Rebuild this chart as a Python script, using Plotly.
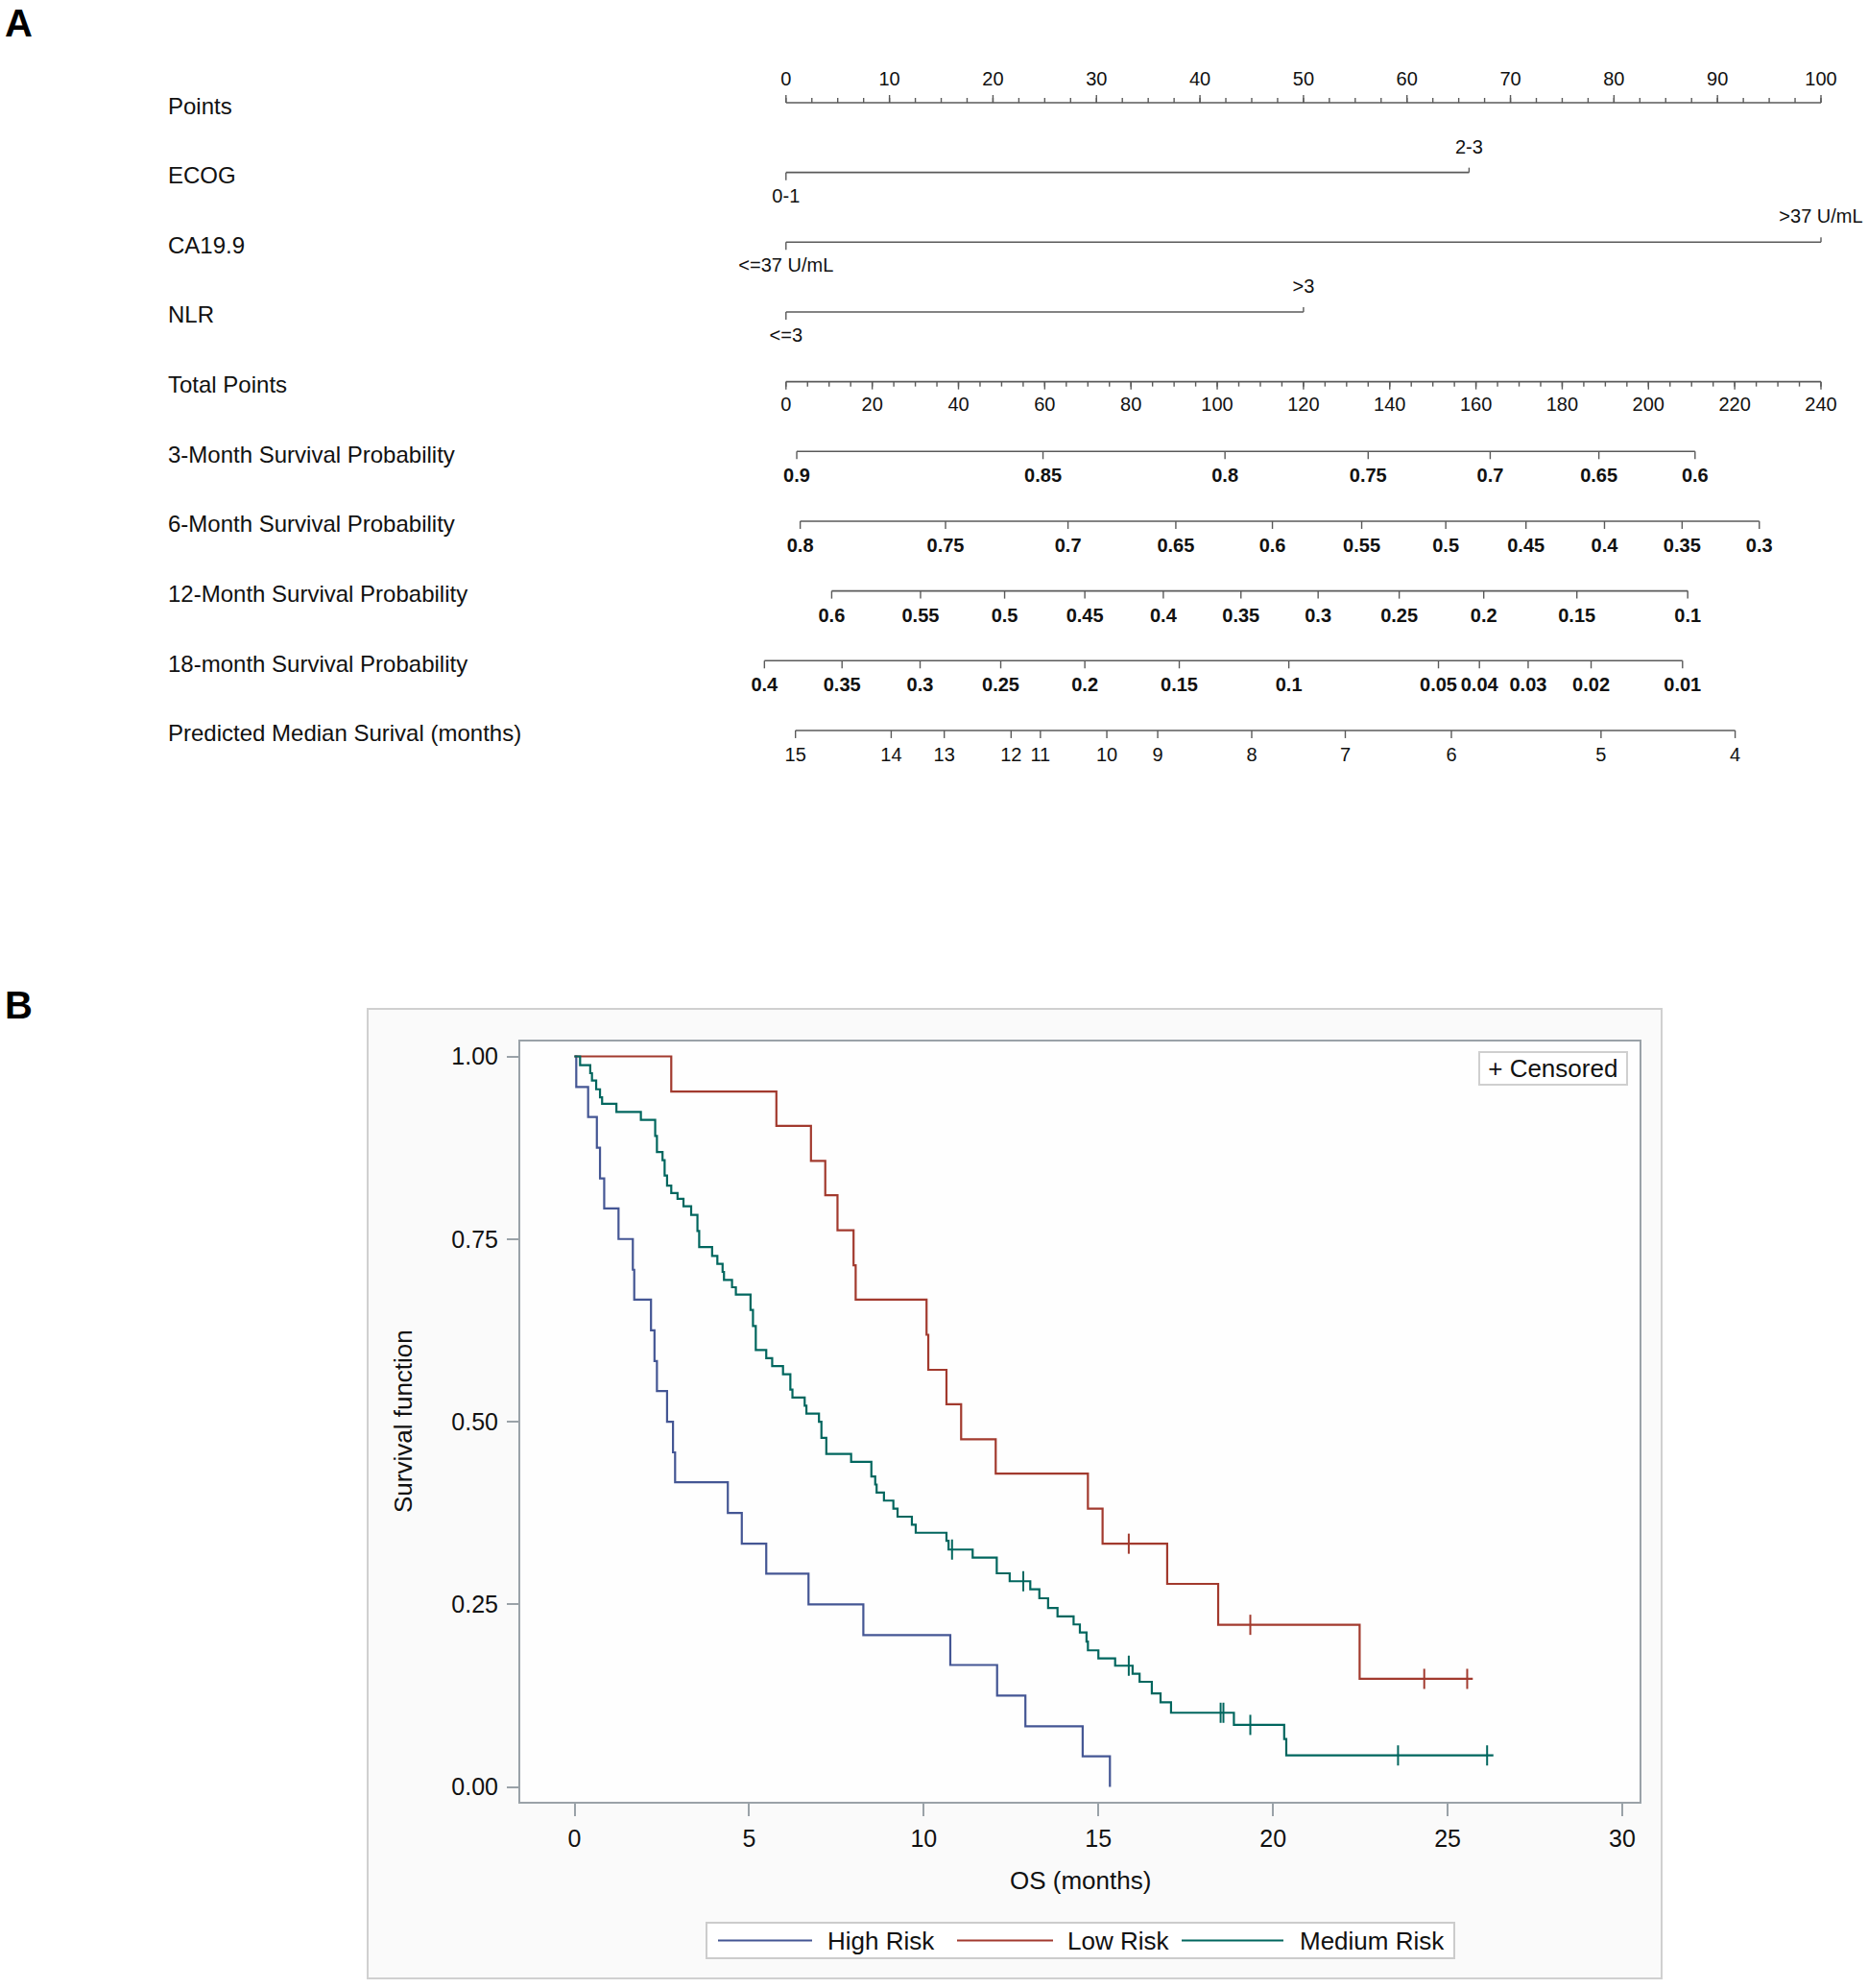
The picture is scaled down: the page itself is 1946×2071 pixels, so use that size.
import plotly.graph_objects as go

W, H = 1946, 2071
FONT = "Liberation Sans, Arial, sans-serif"
AXC = "#5a5a5a"       # nomogram line colour
TXT = "#111111"

###############
# panel A data (nomogram)
row_names = ["Points", "ECOG", "CA19.9", "NLR", "Total Points",
             "3-Month Survival Probability", "6-Month Survival Probability",
             "12-Month Survival Probability", "18-month Survival Probability",
             "Predicted Median Surival (months)"]

points_major = [0, 10, 20, 30, 40, 50, 60, 70, 80, 90, 100]
points_minor_step = 2.5
total_major = [0, 20, 40, 60, 80, 100, 120, 140, 160, 180, 200, 220, 240]
total_minor_step = 5

ecog_pts = [0, 66]
ecog_lbl = ["0-1", "2-3"]
ca199_pts = [0, 100]
ca199_lbl = ["<=37 U/mL", ">37 U/mL"]
nlr_pts = [0, 50]
nlr_lbl = ["<=3", ">3"]

surv3_lbl = ["0.9", "0.85", "0.8", "0.75", "0.7", "0.65", "0.6"]
surv3_tot = [2.5, 59.6, 101.8, 135.0, 163.3, 188.5, 210.8]
surv6_lbl = ["0.8", "0.75", "0.7", "0.65", "0.6", "0.55", "0.5", "0.45", "0.4", "0.35", "0.3"]
surv6_tot = [3.3, 37.0, 65.4, 90.4, 112.8, 133.5, 153.0, 171.6, 189.8, 207.8, 225.7]
surv12_lbl = ["0.6", "0.55", "0.5", "0.45", "0.4", "0.35", "0.3", "0.25", "0.2", "0.15", "0.1"]
surv12_tot = [10.6, 31.2, 50.7, 69.3, 87.5, 105.5, 123.4, 142.2, 161.8, 183.4, 209.1]
surv18_lbl = ["0.4", "0.35", "0.3", "0.25", "0.2", "0.15", "0.1", "0.05", "0.04", "0.03", "0.02", "0.01"]
surv18_tot = [-5.0, 13.0, 31.1, 49.8, 69.3, 91.2, 116.6, 151.3, 160.8, 172.1, 186.7, 207.9]
median_lbl = ["15", "14", "13", "12", "11", "10", "9", "8", "7", "6", "5", "4"]
median_tot = [2.2, 24.4, 36.7, 52.2, 59.0, 74.4, 86.2, 108.0, 129.7, 154.3, 189.0, 220.1]

###############
# panel B data (Kaplan-Meier)
high_t = [0, 0.05, 0.39, 0.64, 0.73, 0.85, 1.26, 1.67, 1.71, 2.19, 2.29, 2.36, 2.65,
          2.82, 2.88, 4.39, 4.79, 5.49, 6.70, 8.27, 10.76, 12.10, 12.91, 14.55, 15.33]
high_s = [1.0, 0.958, 0.917, 0.875, 0.833, 0.792, 0.750, 0.708, 0.667, 0.625, 0.583, 0.542, 0.500,
          0.458, 0.417, 0.375, 0.333, 0.292, 0.250, 0.208, 0.167, 0.125, 0.083, 0.042, 0.0]
high_cens_t = []
high_cens_s = []

low_t = [0, 2.77, 5.78, 6.77, 7.18, 7.53, 7.99, 8.05, 10.08, 10.13, 10.65, 11.07, 12.06,
         14.70, 15.12, 16.97, 18.43, 22.48, 25.72]
low_s = [1.0, 0.952, 0.905, 0.857, 0.810, 0.762, 0.714, 0.667, 0.619, 0.571, 0.524, 0.476, 0.429,
         0.381, 0.333, 0.278, 0.222, 0.148, 0.148]
low_cens_t = [15.87, 19.35, 24.33, 25.56]
low_cens_s = [0.333, 0.222, 0.148, 0.148]

mid_t = [0, 0.16, 0.45, 0.50, 0.62, 0.73, 0.79, 1.20, 1.90, 2.31, 2.36, 2.52, 2.58, 2.65, 2.77,
         2.95, 3.12, 3.34, 3.52, 3.57, 3.94, 4.09, 4.24, 4.28, 4.51, 4.62, 5.04, 5.11, 5.19,
         5.49, 5.66, 5.97, 6.18, 6.24, 6.59, 6.64, 7.00, 7.07, 7.21, 7.92, 8.50, 8.61, 8.65,
         8.86, 9.13, 9.25, 9.66, 9.77, 10.65, 10.71, 11.40, 12.09, 12.46, 13.05, 13.31, 13.56,
         13.83, 14.29, 14.47, 14.66, 14.70, 15.00, 15.48, 15.98, 16.18, 16.53, 16.78, 17.08,
         18.88, 20.32, 20.38, 26.31]
mid_s = [1.0, 0.988, 0.977, 0.967, 0.955, 0.944, 0.935, 0.924, 0.913, 0.891, 0.869, 0.858, 0.837,
         0.823, 0.813, 0.805, 0.795, 0.783, 0.761, 0.739, 0.727, 0.716, 0.705, 0.694, 0.684, 0.674,
         0.653, 0.631, 0.598, 0.587, 0.576, 0.565, 0.544, 0.533, 0.522, 0.511, 0.500, 0.478, 0.456,
         0.445, 0.425, 0.414, 0.403, 0.392, 0.381, 0.370, 0.359, 0.348, 0.337, 0.325, 0.314, 0.2925,
         0.2816, 0.2706, 0.2583, 0.245, 0.2334, 0.2225, 0.2114, 0.199, 0.187, 0.176, 0.166, 0.155,
         0.144, 0.128, 0.116, 0.1016, 0.085, 0.0656, 0.0432, 0.0432]
mid_cens_t = [10.81, 12.85, 15.87, 18.50, 18.58, 19.35, 23.58, 26.13]
mid_cens_s = [0.325, 0.2816, 0.166, 0.1016, 0.1016, 0.085, 0.0432, 0.0432]

groups = ["High Risk", "Low Risk", "Medium Risk"]
colors = ["#445694", "#A23A2E", "#01665E"]

###############
# pixel layout helpers
ROW0_PX, ROW_PX = 107.0, 72.66      # nomogram row 0 line and row spacing
NOMO_H = 830                         # height of nomogram area
PT0_PX, PT100_PX = 818.8, 1897.0     # points 0 and 100 (also total 0 and 240)


def xrange_for(v0, v1):
    per = (PT100_PX - PT0_PX) / (v1 - v0)
    lo = v0 - PT0_PX / per
    return [lo, lo + W / per]


def py(p):  # pixel y -> paper
    return 1 - p / H


def px(p):  # pixel x -> paper
    return p / W


fig = go.Figure()


def add_line(xv, row, xa):
    fig.add_trace(go.Scatter(x=[min(xv), max(xv)], y=[row, row], mode="lines",
                             line=dict(color=AXC, width=1.6), xaxis=xa, yaxis="y",
                             hoverinfo="skip", showlegend=False))


def add_ticks(xv, row, dpx, xa):
    xs, ys = [], []
    for v in xv:
        xs += [v, v, None]
        ys += [row, row + dpx / ROW_PX, None]
    fig.add_trace(go.Scatter(x=xs, y=ys, mode="lines", line=dict(color=AXC, width=1.4),
                             xaxis=xa, yaxis="y", hoverinfo="skip", showlegend=False))


def add_text(xv, labels, row, dpx, xa, bold=False, size=20):
    txt = ["<b>%s</b>" % l if bold else l for l in labels]
    fig.add_trace(go.Scatter(x=xv, y=[row + dpx / ROW_PX] * len(xv), mode="text", text=txt,
                             textposition="middle center",
                             textfont=dict(family=FONT, size=size, color=TXT),
                             xaxis=xa, yaxis="y", hoverinfo="skip", showlegend=False))


# Points row (ticks up, labels above)
pts_minor = [i * points_minor_step for i in range(int(100 / points_minor_step) + 1)]
add_line(points_major, 0, "x")
add_ticks(pts_minor, 0, -5, "x")
add_ticks(points_major, 0, -8, "x")
add_text(points_major, [str(v) for v in points_major], 0, -23, "x")

# categorical predictors
for row, (vals, lbls) in enumerate([(ecog_pts, ecog_lbl), (ca199_pts, ca199_lbl),
                                    (nlr_pts, nlr_lbl)], start=1):
    add_line(vals, row, "x")
    add_ticks(vals[:1], row, 8, "x")
    add_ticks(vals[1:], row, -5, "x")
    add_text(vals[:1], lbls[:1], row, 26, "x")
    add_text(vals[1:], lbls[1:], row, -25, "x")

# Total points (ticks down, labels below)
tot_minor = [i * total_minor_step for i in range(int(240 / total_minor_step) + 1)]
add_line(total_major, 4, "x2")
add_ticks(tot_minor, 4, 5, "x2")
add_ticks(total_major, 4, 8, "x2")
add_text(total_major, [str(v) for v in total_major], 4, 25, "x2")

# survival probability / median rows
for row, (vals, lbls, bold) in enumerate([(surv3_tot, surv3_lbl, True), (surv6_tot, surv6_lbl, True),
                                          (surv12_tot, surv12_lbl, True), (surv18_tot, surv18_lbl, True),
                                          (median_tot, median_lbl, False)], start=5):
    add_line(vals, row, "x2")
    add_ticks(vals, row, 8, "x2")
    add_text(vals, lbls, row, 27, "x2", bold=bold)

annotations = []
for i, name in enumerate(row_names):
    annotations.append(dict(x=px(173), xref="paper", y=i + 3 / ROW_PX, yref="y", text=name,
                            showarrow=False, xanchor="left", yanchor="middle",
                            font=dict(family=FONT, size=24, color=TXT)))

###############
# panel B: Kaplan-Meier curves
km = [(high_t, high_s, high_cens_t, high_cens_s),
      (low_t, low_s, low_cens_t, low_cens_s),
      (mid_t, mid_s, mid_cens_t, mid_cens_s)]
for name, color, (t, s, ct, cs) in zip(groups, colors, km):
    fig.add_trace(go.Scatter(x=t, y=s, mode="lines", name=name,
                             line=dict(shape="hv", color=color, width=2.2),
                             xaxis="x3", yaxis="y3", showlegend=False))
    if ct:
        fig.add_trace(go.Scatter(x=ct, y=cs, mode="markers", name=name + " censored",
                                 marker=dict(symbol="line-ns", size=15,
                                             line=dict(color=color, width=2)),
                                 xaxis="x3", yaxis="y3", showlegend=False))

# KM axes: 0 months at px 598.5, 30 at 1690; survival 1 at px 1100.5, 0 at 1861.6
KM_L, KM_R, KM_T, KM_B = 542, 1708, 1085, 1877
mpp = 30 / (1690 - 598.5)
spp = 1 / (1861.6 - 1100.5)
km_xrange = [(KM_L - 598.5) * mpp, (KM_R - 598.5) * mpp]
km_yrange = [-(KM_B - 1861.6) * spp, (1861.6 - KM_T) * spp]
KM_AX = "#9aa2a8"

shapes = [
    # outer frame of panel B
    dict(type="rect", xref="paper", yref="paper", x0=px(383), x1=px(1731), y0=py(2061), y1=py(1051),
         line=dict(color="#d0d0d0", width=2), fillcolor="#fafafa", layer="below"),
    dict(type="rect", xref="x3 domain", yref="y3 domain", x0=0, x1=1, y0=0, y1=1,
         line=dict(width=0), fillcolor="#fefefe", layer="below"),
    # group legend box
    dict(type="rect", xref="paper", yref="paper", x0=px(736), x1=px(1515), y0=py(2040), y1=py(2003),
         line=dict(color="#cccccc", width=2), fillcolor="white"),
]
leg_line = [(748, 846), (997, 1097), (1231, 1337)]
leg_text_x = [860, 1110, 1352]
for (a, b), tx, name, color in zip(leg_line, leg_text_x, groups, colors):
    shapes.append(dict(type="line", xref="paper", yref="paper", x0=px(a), x1=px(b),
                       y0=py(2021.5), y1=py(2021.5), line=dict(color=color, width=2.2)))
    annotations.append(dict(x=px(tx), y=py(2021.5), xref="paper", yref="paper", text=name,
                            showarrow=False, xanchor="left", yanchor="middle",
                            font=dict(family=FONT, size=26, color=TXT)))

annotations += [
    dict(x=px(1696), y=py(1095), xref="paper", yref="paper", text=" + Censored ",
         showarrow=False, xanchor="right", yanchor="top", bordercolor="#cfcfcf", borderwidth=2,
         borderpad=1, bgcolor="white", font=dict(family=FONT, size=26, color=TXT)),
    dict(x=px(1125), y=py(1959), xref="paper", yref="paper", text="OS (months)", showarrow=False,
         xanchor="center", yanchor="middle", font=dict(family=FONT, size=26, color=TXT)),
    dict(x=px(420), y=py(1481), xref="paper", yref="paper", text="Survival function", showarrow=False,
         textangle=-90, xanchor="center", yanchor="middle", font=dict(family=FONT, size=26, color=TXT)),
    dict(x=px(3), y=py(0), xref="paper", yref="paper", text="<b>A</b>", showarrow=False,
         xanchor="left", yanchor="top", font=dict(family=FONT, size=40, color="black")),
    dict(x=px(3), y=py(1047), xref="paper", yref="paper", text="<b>B</b>", showarrow=False,
         xanchor="left", yanchor="middle", font=dict(family=FONT, size=40, color="black")),
]

hidden = dict(visible=False, showgrid=False, zeroline=False)
fig.update_layout(
    width=W, height=H,
    margin=dict(l=0, r=0, t=0, b=0),
    paper_bgcolor="white",
    plot_bgcolor="rgba(0,0,0,0)",
    showlegend=False,
    xaxis=dict(domain=[0, 1], range=xrange_for(0, 100), anchor="y", **hidden),
    xaxis2=dict(domain=[0, 1], range=xrange_for(0, 240), anchor="y", overlaying="x", **hidden),
    yaxis=dict(domain=[1 - NOMO_H / H, 1], anchor="x",
               range=[(NOMO_H - ROW0_PX) / ROW_PX, -ROW0_PX / ROW_PX], **hidden),
    xaxis3=dict(domain=[px(KM_L), px(KM_R)], anchor="y3", range=km_xrange,
                tickvals=[0, 5, 10, 15, 20, 25, 30], ticks="outside", ticklen=13, tickwidth=2,
                tickcolor=KM_AX, showline=True, linecolor=KM_AX, linewidth=2, mirror=True,
                showgrid=False, zeroline=False, ticklabelstandoff=2,
                tickfont=dict(family=FONT, size=25, color=TXT)),
    yaxis3=dict(domain=[py(KM_B), py(KM_T)], anchor="x3", range=km_yrange,
                tickvals=[0, 0.25, 0.5, 0.75, 1.0], tickformat=".2f", ticks="outside", ticklen=12,
                tickwidth=2, tickcolor=KM_AX, showline=True, linecolor=KM_AX, linewidth=2,
                mirror=True, showgrid=False, zeroline=False, ticklabelstandoff=4,
                tickfont=dict(family=FONT, size=25, color=TXT)),
    shapes=shapes,
    annotations=annotations,
)

# the page's default body margin would shift the whole figure by 8px
fig.write_html("out.html", config={"displayModeBar": False},
               post_script="document.body.style.margin='0';")
